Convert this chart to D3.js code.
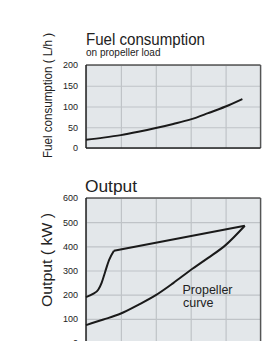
<!DOCTYPE html>
<html><head><meta charset="utf-8">
<script src="https://cdn.jsdelivr.net/npm/d3@7"></script>
<style>html,body{margin:0;padding:0;background:#fff;overflow:hidden}</style>
</head><body>
<script>
// ---- data ----
const xTicks = [0, 1, 2, 3, 4, 5];
const fuelTicks = [0, 50, 100, 150, 200];
const outputTicks = [0, 100, 200, 300, 400, 500, 600];
const fuelX = [0, 0.5, 1, 1.5, 2, 2.5, 3, 3.5, 4, 4.48];
const fuelY = [20, 25, 31, 39, 48, 58, 69, 84, 100, 118];
const riseX = [0, 0.2, 0.35, 0.45, 0.55, 0.66, 0.8];
const riseY = [190, 203, 220, 250, 295, 343, 382];
const straightX = [0.8, 4.55];
const straightY = [382, 485];
const propX = [0, 0.5, 1, 1.5, 2, 2.5, 3, 3.5, 4, 4.55];
const propY = [74, 97, 122, 158, 198, 248, 302, 352, 405, 485];

const W = 262, H = 341;
const svg = d3.select("body").append("svg").attr("width", W).attr("height", H)
  .style("font-family", "'Liberation Sans', Arial, sans-serif");

const zip = (xs, ys) => xs.map((x, i) => [x, ys[i]]);
const tickFont = "'Liberation Sans Narrow', 'Arial Narrow', 'Liberation Sans', sans-serif";

function panel(y0, y1, domainMax, ticks) {
  const x = d3.scaleLinear().domain([0, 5]).range([86, 260.5]);
  const y = d3.scaleLinear().domain([0, domainMax]).range([y1, y0]);
  const g = svg.append("g");
  g.append("rect").attr("x", x(0)).attr("y", y(domainMax))
    .attr("width", x(5) - x(0)).attr("height", y(0) - y(domainMax)).attr("fill", "#e3e7ea");
  // grid
  g.append("g").attr("transform", `translate(0,${y(0)})`)
    .call(d3.axisBottom(x).tickValues(xTicks).tickSize(-(y(0) - y(domainMax))).tickFormat(""))
    .call(a => a.select(".domain").remove())
    .call(a => a.selectAll("line").attr("stroke", "#bfc3c7").attr("stroke-width", 1.2));
  g.append("g").attr("transform", `translate(${x(0)},0)`)
    .call(d3.axisLeft(y).tickValues(ticks).tickSize(-(x(5) - x(0))).tickFormat(""))
    .call(a => a.select(".domain").remove())
    .call(a => a.selectAll("line").attr("stroke", "#bfc3c7").attr("stroke-width", 1.2));
  // tick labels
  g.append("g").attr("transform", `translate(${x(0)},0)`)
    .call(d3.axisLeft(y).tickValues(ticks).tickSize(0).tickPadding(8))
    .call(a => a.select(".domain").remove())
    .call(a => a.selectAll("text").attr("font-size", 9).attr("fill", "#222")
      .style("font-family", tickFont));
  // borders
  g.append("line").attr("x1", x(0)).attr("x2", x(5)).attr("y1", y(domainMax)).attr("y2", y(domainMax))
    .attr("stroke", "#555").attr("stroke-width", 1.3);
  g.append("line").attr("x1", x(5)).attr("x2", x(5)).attr("y1", y(domainMax)).attr("y2", y(0))
    .attr("stroke", "#555").attr("stroke-width", 1.3);
  g.append("line").attr("x1", x(0)).attr("x2", x(0)).attr("y1", y(domainMax)).attr("y2", y(0))
    .attr("stroke", "#222").attr("stroke-width", 1.5);
  g.append("line").attr("x1", x(0)).attr("x2", x(5)).attr("y1", y(0)).attr("y2", y(0))
    .attr("stroke", "#222").attr("stroke-width", 1.5);
  return {x, y, g};
}

function curve(p, pts, c) {
  const line = d3.line().x(d => p.x(d[0])).y(d => p.y(d[1])).curve(c);
  p.g.append("path").attr("d", line(pts)).attr("fill", "none")
    .attr("stroke", "#1a1a1a").attr("stroke-width", 2).attr("stroke-linejoin", "round");
}

// top panel
const fuelPanel = panel(65, 148, 200, fuelTicks);
curve(fuelPanel, zip(fuelX, fuelY), d3.curveMonotoneX);
svg.append("text").attr("x", 86).attr("y", 44.5).attr("font-size", 16).attr("fill", "#222")
  .attr("textLength", 119).attr("lengthAdjust", "spacingAndGlyphs").text("Fuel consumption");
svg.append("text").attr("x", 86).attr("y", 56).attr("font-size", 10).attr("fill", "#222")
  .text("on propeller load");
svg.append("text").attr("transform", "translate(52,95.5) rotate(-90)").attr("text-anchor", "middle")
  .attr("font-size", 13).attr("fill", "#222").attr("textLength", 125).attr("lengthAdjust", "spacingAndGlyphs")
  .text("Fuel consumption ( L/h )");

// bottom panel
const outPanel = panel(198, 343, 600, outputTicks);
curve(outPanel, zip(riseX, riseY), d3.curveMonotoneX);
curve(outPanel, zip(straightX, straightY), d3.curveLinear);
curve(outPanel, zip(propX, propY), d3.curveMonotoneX);
svg.append("text").attr("x", 85).attr("y", 191.5).attr("font-size", 16).attr("fill", "#222")
  .attr("textLength", 52).attr("lengthAdjust", "spacingAndGlyphs").text("Output");
svg.append("text").attr("transform", "translate(52,260) rotate(-90)").attr("text-anchor", "middle")
  .attr("font-size", 14).attr("fill", "#222").attr("textLength", 94).attr("lengthAdjust", "spacingAndGlyphs")
  .text("Output ( kW )");
svg.append("text").attr("x", 182.5).attr("y", 294).attr("font-size", 12.5).attr("fill", "#222").text("Propeller");
svg.append("text").attr("x", 183).attr("y", 307).attr("font-size", 12.5).attr("fill", "#222").text("curve");
</script>
</body></html>
